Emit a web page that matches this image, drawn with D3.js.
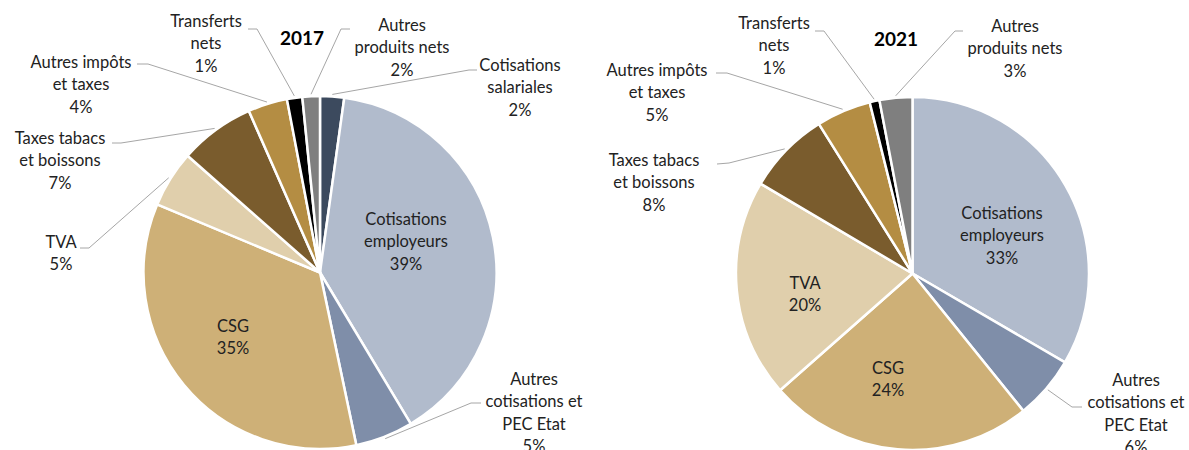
<!DOCTYPE html>
<html>
<head>
<meta charset="utf-8">
<script src="https://cdn.jsdelivr.net/npm/d3@7"></script>
<style>
  html, body { margin: 0; padding: 0; background: #ffffff; }
  svg { display: block; }
  text { font-family: Lato, "Open Sans", sans-serif; fill: #222222; }
</style>
</head>
<body>
<svg id="chart" width="1189" height="450"></svg>
<script>
// ---------- DATA ----------
const categories = [
  "Cotisations salariales",
  "Cotisations employeurs",
  "Autres cotisations et PEC Etat",
  "CSG",
  "TVA",
  "Taxes tabacs et boissons",
  "Autres impôts et taxes",
  "Transferts nets",
  "Autres produits nets"
];
const years = ["2017", "2021"];
const values2017 = [2.2, 39.2, 5.3, 34.6, 5.2, 6.9, 3.6, 1.4, 1.6];
const values2021 = [0, 33.4, 5.8, 24.3, 20.0, 7.6, 5.0, 0.9, 3.0];
const colors = ["#3c4a5e", "#b1bbcc", "#7f8ea9", "#ceb077", "#e0cfac", "#7a5c2d", "#b48d43", "#000000", "#7f7f7f"];
// label line breaks (text only)
const labelLines = [
  ["Cotisations", "salariales"],
  ["Cotisations", "employeurs"],
  ["Autres", "cotisations et", "PEC Etat"],
  ["CSG"],
  ["TVA"],
  ["Taxes tabacs", "et boissons"],
  ["Autres impôts", "et taxes"],
  ["Transferts", "nets"],
  ["Autres", "produits nets"]
];

// ---------- LAYOUT ----------
const W = 1189, H = 450;
const R = 176.5;
const lineH = 22.5;
const charts = [
  { year: years[0], values: values2017, cx: 320, cy: 272.5, title: [302, 38],
    labels: [
      { x: 520, y: 65, lead: [[477, 70], [469, 70]] },
      { x: 406, y: 219 },
      { x: 534, y: 379, lead: [[481, 403], [471, 403]] },
      { x: 233, y: 326 },
      { x: 61, y: 242, lead: [[80, 248], [89, 248]] },
      { x: 60, y: 138, lead: [[112, 143], [121, 143]] },
      { x: 81, y: 62, lead: [[137, 64], [148, 64]] },
      { x: 206, y: 21, lead: [[248, 29], [257, 29]] },
      { x: 402, y: 25, lead: [[350, 29], [341, 29]] }
    ] },
  { year: years[1], values: values2021, cx: 912.5, cy: 273.5, title: [896, 39],
    labels: [
      null,
      { x: 1002, y: 213 },
      { x: 1136, y: 380, lead: [[1082, 407], [1072, 407]] },
      { x: 888, y: 368 },
      { x: 805, y: 283 },
      { x: 654, y: 160, lead: [[717, 164], [729, 163]] },
      { x: 657, y: 70, lead: [[716, 73], [727, 73]] },
      { x: 774, y: 23, lead: [[815, 31], [824, 31]] },
      { x: 1015, y: 26, lead: [[963, 31], [955, 31]] }
    ] }
];

const svg = d3.select("#chart");
const pie = d3.pie().sort(null).value(d => d).startAngle(0).endAngle(2 * Math.PI);
const arc = d3.arc().innerRadius(0).outerRadius(R);
const edgeArc = d3.arc().innerRadius(R + 2).outerRadius(R + 2);

charts.forEach(ch => {
  const g = svg.append("g").attr("transform", `translate(${ch.cx},${ch.cy})`);
  const arcs = pie(ch.values).map((a, i) => Object.assign(a, { idx: i }));
  const shown = arcs.filter(a => a.value > 0);

  g.selectAll("path.slice").data(shown).enter().append("path")
    .attr("class", "slice")
    .attr("d", arc)
    .attr("fill", d => colors[d.idx])
    .attr("stroke", "#ffffff")
    .attr("stroke-width", 2.5)
    .attr("stroke-linejoin", "round");

  // leader lines
  shown.forEach(a => {
    const L = ch.labels[a.idx];
    if (!L || !L.lead) return;
    const p = edgeArc.centroid(a);
    const pts = [
      [L.lead[0][0] - ch.cx, L.lead[0][1] - ch.cy],
      [L.lead[1][0] - ch.cx, L.lead[1][1] - ch.cy],
      p
    ];
    g.append("path")
      .attr("d", d3.line()(pts))
      .attr("fill", "none")
      .attr("stroke", "#a6a6a6")
      .attr("stroke-width", 1);
  });

  // labels
  shown.forEach(a => {
    const L = ch.labels[a.idx];
    if (!L) return;
    const lines = labelLines[a.idx].concat([Math.round(a.value) + "%"]);
    const t = svg.append("text")
      .attr("text-anchor", "middle")
      .attr("font-size", 16.5);
    lines.forEach((s, k) => {
      t.append("tspan")
        .attr("x", L.x)
        .attr("y", L.y + k * lineH)
        .attr("dy", "0.35em")
        .text(s);
    });
  });

  // title
  svg.append("text")
    .attr("x", ch.title[0]).attr("y", ch.title[1])
    .attr("dy", "0.35em")
    .attr("text-anchor", "middle")
    .attr("font-size", 19)
    .attr("font-weight", "bold")
    .style("fill", "#000000")
    .text(ch.year);
});
</script>
</body>
</html>
